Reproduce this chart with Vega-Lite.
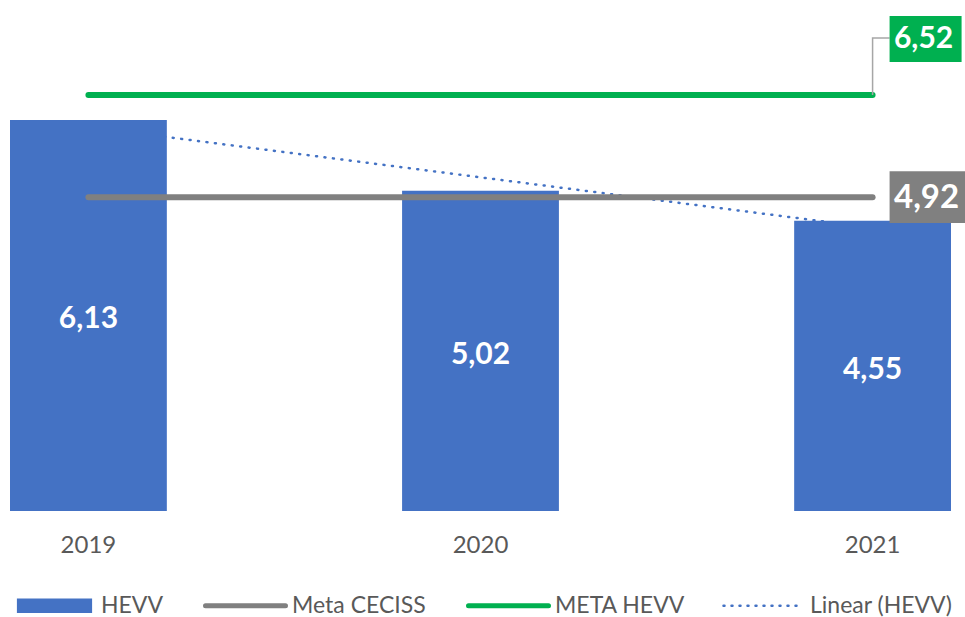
{
  "$schema": "https://vega.github.io/schema/vega-lite/v6.json",
  "width": 941,
  "height": 511,
  "autosize": {"type": "none"},
  "padding": {"left": 10, "top": 0, "right": 14, "bottom": 106},
  "background": "white",
  "config": {
    "view": {"stroke": null},
    "font": "Lato",
    "locale": {"number": {"decimal": ",", "thousands": ".", "grouping": [3], "currency": ["", ""]}}
  },
  "datasets": {
    "hevv": [
      {"year": "2019", "value": 6.13, "serie": "HEVV"},
      {"year": "2020", "value": 5.02, "serie": "HEVV"},
      {"year": "2021", "value": 4.55, "serie": "HEVV"}
    ],
    "metas": [
      {"year": "2019", "value": 4.92, "serie": "Meta CECISS"},
      {"year": "2020", "value": 4.92, "serie": "Meta CECISS"},
      {"year": "2021", "value": 4.92, "serie": "Meta CECISS"},
      {"year": "2019", "value": 6.52, "serie": "META HEVV"},
      {"year": "2020", "value": 6.52, "serie": "META HEVV"},
      {"year": "2021", "value": 6.52, "serie": "META HEVV"}
    ],
    "trend": [
      {"year": "2019", "value": 6.02, "serie": "Linear (HEVV)"},
      {"year": "2020", "value": 5.23, "serie": "Linear (HEVV)"},
      {"year": "2021", "value": 4.44, "serie": "Linear (HEVV)"}
    ]
  },
  "encoding": {
    "x": {
      "field": "year",
      "type": "nominal",
      "scale": {"paddingInner": 0.6, "paddingOuter": 0},
      "axis": {
        "title": null,
        "domain": false,
        "ticks": false,
        "labelAngle": 0,
        "labelFontSize": 24,
        "labelColor": "#595959",
        "labelPadding": 22,
        "labelFont": "Lato"
      }
    },
    "y": {
      "field": "value",
      "type": "quantitative",
      "scale": {"domain": [0, 8.01], "nice": false, "zero": true},
      "axis": null
    }
  },
  "layer": [
    {
      "data": {"name": "trend"},
      "mark": {"type": "line", "strokeWidth": 2.5, "strokeDash": [1, 7.5], "strokeCap": "round"},
      "encoding": {
        "color": {"field": "serie", "type": "nominal"}
      }
    },
    {
      "data": {"name": "hevv"},
      "mark": {"type": "bar"},
      "encoding": {
        "color": {
          "field": "serie",
          "type": "nominal",
          "scale": {
            "domain": ["HEVV", "Meta CECISS", "META HEVV", "Linear (HEVV)"],
            "range": ["#4472c4", "#808080", "#00b050", "#4472c4"]
          },
          "legend": {
            "orient": "none",
            "legendX": 33,
            "legendY": 594,
            "direction": "horizontal",
            "title": null,
            "symbolSize": 6400,
            "labelFontSize": 23,
            "labelFont": "Lato",
            "labelColor": "#595959",
            "labelOffset": 35,
            "columnPadding": 32,
            "padding": 0,
            "encode": {
              "symbols": {
                "update": {
                  "size": {"value": 6400},
                  "shape": {"signal": "datum.value === 'HEVV' ? 'M-0.94,-0.18H0.94V0.18H-0.94Z' : 'stroke'"},
                  "fill": {"signal": "datum.value === 'HEVV' ? '#4472c4' : 'transparent'"},
                  "stroke": {"signal": "datum.value === 'Meta CECISS' ? '#808080' : datum.value === 'META HEVV' ? '#00b050' : datum.value === 'Linear (HEVV)' ? '#4472c4' : 'transparent'"},
                  "strokeWidth": {"signal": "datum.value === 'Linear (HEVV)' ? 2.5 : datum.value === 'HEVV' ? 0 : 5"},
                  "strokeDash": {"signal": "datum.value === 'Linear (HEVV)' ? [1, 7] : [1, 0]"},
                  "strokeCap": {"value": "round"},
                  "opacity": {"value": 1}
                }
              }
            }
          }
        }
      }
    },
    {
      "data": {"name": "metas"},
      "mark": {"type": "line", "strokeWidth": 6, "strokeCap": "round"},
      "encoding": {
        "color": {"field": "serie", "type": "nominal"},
        "detail": {"field": "serie"}
      }
    },
    {
      "data": {"name": "hevv"},
      "transform": [{"calculate": "datum.value / 2", "as": "mid"}],
      "mark": {"type": "text", "fontSize": 30, "fontWeight": "bold", "color": "white", "baseline": "middle", "align": "center", "dy": 4},
      "encoding": {
        "y": {"field": "mid", "type": "quantitative"},
        "text": {"field": "value", "type": "quantitative", "format": ".2f"}
      }
    },
    {
      "data": {"name": "metas"},
      "transform": [{"filter": "datum.serie === 'META HEVV' && datum.year === '2021'"}],
      "mark": {"type": "point", "shape": "M0,0V-57H17", "size": 4, "filled": false, "stroke": "#a6a6a6", "strokeWidth": 1.5, "opacity": 1}
    },
    {
      "data": {"name": "metas"},
      "transform": [{"filter": "datum.serie === 'META HEVV' && datum.year === '2021'"}],
      "mark": {"type": "point", "shape": "M-1,-0.64H1V0.64H-1Z", "size": 5184, "filled": true, "fill": "#00b050", "strokeWidth": 0, "opacity": 1, "xOffset": 53, "yOffset": -56}
    },
    {
      "data": {"name": "metas"},
      "transform": [{"filter": "datum.serie === 'META HEVV' && datum.year === '2021'"}],
      "mark": {"type": "text", "fontSize": 30, "fontWeight": "bold", "color": "white", "baseline": "middle", "align": "center", "dx": 51, "dy": -56},
      "encoding": {
        "text": {"field": "value", "type": "quantitative", "format": ".2f"}
      }
    },
    {
      "data": {"name": "metas"},
      "transform": [{"filter": "datum.serie === 'Meta CECISS' && datum.year === '2021'"}],
      "mark": {"type": "point", "shape": "M-1,-0.684H1V0.684H-1Z", "size": 5776, "filled": true, "fill": "#808080", "strokeWidth": 0, "opacity": 1, "xOffset": 55}
    },
    {
      "data": {"name": "metas"},
      "transform": [{"filter": "datum.serie === 'Meta CECISS' && datum.year === '2021'"}],
      "mark": {"type": "text", "fontSize": 33, "fontWeight": "bold", "color": "white", "baseline": "middle", "align": "center", "dx": 54, "dy": 1},
      "encoding": {
        "text": {"field": "value", "type": "quantitative", "format": ".2f"}
      }
    }
  ]
}
